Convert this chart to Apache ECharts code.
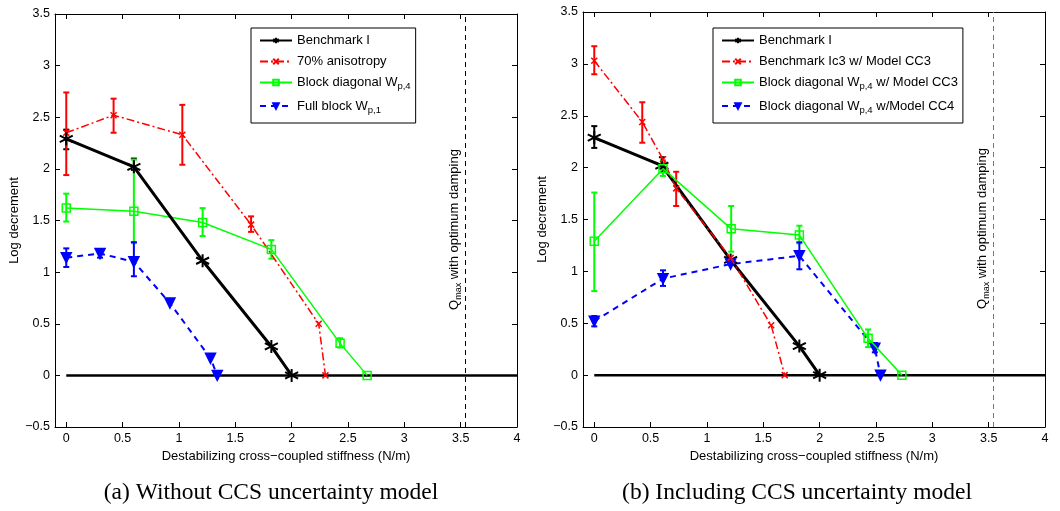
<!DOCTYPE html>
<html><head><meta charset="utf-8">
<script src="https://cdn.jsdelivr.net/npm/echarts@6/dist/echarts.min.js"></script>
<style>html,body{margin:0;padding:0;background:#fff;}#c{width:1060px;height:511px;}</style>
</head><body><div id="c"></div>
<script>
// ---- tick labels ----
const xTicks = [0, 0.5, 1, 1.5, 2, 2.5, 3, 3.5, 4];
const yTicks = [-0.5, 0, 0.5, 1, 1.5, 2, 2.5, 3, 3.5];
const qmaxX = 3.54;
const zeroLineX = [0, 4];

// ---- (a) Without CCS uncertainty model ----
const aBenchX = [0, 0.6, 1.21, 1.82, 2.0];
const aBenchY = [2.29, 2.02, 1.11, 0.28, 0];
const aBenchErrX = [0, 0.6];
const aBenchErrLo = [2.19, 1.99];
const aBenchErrHi = [2.38, 2.10];

const aAnisoX = [0, 0.42, 1.03, 1.64, 2.24, 2.30];
const aAnisoY = [2.35, 2.52, 2.33, 1.46, 0.50, 0];
const aAnisoErrX = [0, 0.42, 1.03, 1.64];
const aAnisoErrLo = [1.94, 2.35, 2.04, 1.39];
const aAnisoErrHi = [2.74, 2.68, 2.62, 1.54];

const aBlockX = [0, 0.6, 1.21, 1.82, 2.43, 2.67];
const aBlockY = [1.62, 1.59, 1.48, 1.22, 0.31, 0];
const aBlockErrX = [0, 0.6, 1.21, 1.82, 2.43];
const aBlockErrLo = [1.49, 1.28, 1.35, 1.13, 0.27];
const aBlockErrHi = [1.76, 2.09, 1.62, 1.31, 0.36];

const aFullX = [0, 0.3, 0.6, 0.92, 1.28, 1.34];
const aFullY = [1.14, 1.18, 1.10, 0.70, 0.165, 0];
const aFullErrX = [0, 0.3, 0.6];
const aFullErrLo = [1.05, 1.14, 0.96];
const aFullErrHi = [1.23, 1.22, 1.29];

// ---- (b) Including CCS uncertainty model ----
const bBenchX = [0, 0.6, 1.21, 1.82, 2.0];
const bBenchY = [2.29, 2.02, 1.11, 0.28, 0];
const bBenchErrX = [0, 0.6];
const bBenchErrLo = [2.19, 1.99];
const bBenchErrHi = [2.40, 2.10];

const bIc3X = [0, 0.426, 0.61, 0.727, 1.21, 1.57, 1.69];
const bIc3Y = [3.03, 2.44, 2.08, 1.80, 1.13, 0.48, 0];
const bIc3ErrX = [0, 0.426, 0.727];
const bIc3ErrLo = [2.90, 2.24, 1.63];
const bIc3ErrHi = [3.17, 2.63, 1.96];

const bCC3X = [0, 0.61, 1.215, 1.82, 2.43, 2.73];
const bCC3Y = [1.29, 1.99, 1.41, 1.35, 0.355, 0];
const bCC3ErrX = [0, 0.61, 1.215, 1.82, 2.43];
const bCC3ErrLo = [0.81, 1.92, 1.19, 1.27, 0.27];
const bCC3ErrHi = [1.76, 2.07, 1.63, 1.44, 0.44];

const bCC4X = [0, 0.61, 1.21, 1.82, 2.49, 2.54];
const bCC4Y = [0.52, 0.93, 1.07, 1.15, 0.26, 0];
const bCC4ErrX = [0, 0.61, 1.82, 2.49];
const bCC4ErrLo = [0.47, 0.86, 1.02, 0.22];
const bCC4ErrHi = [0.57, 1.01, 1.28, 0.31];

// ---- legend labels ----
const legendA = {
  'aBench': 'Benchmark I',
  'aAniso': '70% anisotropy',
  'aBlock': 'Block diagonal W{sub|p,4}',
  'aFull': 'Full block W{sub|p,1}'
};
const legendB = {
  'bBench': 'Benchmark I',
  'bIc3': 'Benchmark Ic3 w/ Model CC3',
  'bCC3': 'Block diagonal W{sub|p,4} w/ Model CC3',
  'bCC4': 'Block diagonal W{sub|p,4} w/Model CC4'
};
const captionA = '(a) Without CCS uncertainty model';
const captionB = '(b) Including CCS uncertainty model';
const xName = 'Destabilizing cross\u2212coupled stiffness (N/m)';
const yName = 'Log decrement';
const qLabel = 'Q{sub|max} with optimum damping';

const FONT = 'Liberation Sans';
const STAR = 'path://M0,-10L0,10M-8.66,-5L8.66,5M-8.66,5L8.66,-5';
const CROSS = 'path://M-5,-5L5,5M-5,5L5,-5';
const SQUARE = 'path://M-5,-5L5,-5L5,5L-5,5Z';

function zip(xs, ys) { return xs.map((x, i) => [x, ys[i]]); }

function lineS(name, xs, ys, g, color, width, type, symbol, size, opts) {
  return Object.assign({
    type: 'line', name: name, xAxisIndex: g * 2, yAxisIndex: g * 2,
    data: zip(xs, ys), symbol: symbol, symbolSize: size,
    lineStyle: { color: color, width: width, type: type },
    itemStyle: { color: color, borderColor: color, borderWidth: 1.5 },
    animation: false, silent: true, z: 3
  }, opts || {});
}

function errS(xs, lo, hi, g, color, lw) {
  return {
    type: 'custom', xAxisIndex: g * 2, yAxisIndex: g * 2, silent: true, animation: false, z: 2,
    data: xs.map((x, i) => [x, lo[i], hi[i]]),
    encode: { x: 0, y: [1, 2] },
    renderItem: function (params, api) {
      const x = api.value(0);
      const a = api.coord([x, api.value(1)]);
      const b = api.coord([x, api.value(2)]);
      const w = 3;
      const st = { stroke: color, lineWidth: lw };
      return { type: 'group', children: [
        { type: 'line', shape: { x1: a[0], y1: a[1], x2: b[0], y2: b[1] }, style: st },
        { type: 'line', shape: { x1: a[0] - w, y1: a[1], x2: a[0] + w, y2: a[1] }, style: st },
        { type: 'line', shape: { x1: b[0] - w, y1: b[1], x2: b[0] + w, y2: b[1] }, style: st }
      ] };
    }
  };
}

function zeroS(g, mlColor) {
  return {
    type: 'line', xAxisIndex: g * 2, yAxisIndex: g * 2, silent: true, animation: false,
    data: zeroLineX.map(x => [x, 0]), symbol: 'none',
    lineStyle: { color: '#000', width: 2.5 }, z: 1,
    markLine: {
      silent: true, symbol: ['none', 'none'], animation: false,
      lineStyle: { color: mlColor, width: 1, type: [5, 4] },
      label: {
        show: true, position: 'insideMiddleTop', formatter: qLabel,
        color: '#000', fontFamily: FONT, fontSize: 13, distance: 2, padding: [0, 18, 0, 0],
        rich: { sub: { fontSize: 9, fontFamily: FONT, padding: [8, 0, 0, 0], verticalAlign: 'bottom' } }
      },
      data: [{ xAxis: qmaxX }]
    }
  };
}

function fmt(v) { return v < 0 ? '\u2212' + Math.abs(v) : String(v); }

const axLine = { show: true, onZero: false, lineStyle: { color: '#000', width: 1 } };
const lbl = { color: '#000', fontFamily: FONT, fontSize: 12.5 };
const nameLbl = { color: '#000', fontFamily: FONT, fontSize: 13 };

function xAxes(g) {
  return [
    { type: 'value', gridIndex: g, position: 'bottom', min: -0.1, max: 4, axisLine: axLine,
      splitLine: { show: false },
      axisTick: { inside: true, length: 5, lineStyle: { color: '#000' }, customValues: xTicks },
      axisLabel: Object.assign({ margin: 5, formatter: fmt, customValues: xTicks }, lbl),
      name: xName, nameLocation: 'middle', nameGap: 19, nameTextStyle: nameLbl },
    { type: 'value', gridIndex: g, position: 'top', min: -0.1, max: 4, axisLine: axLine,
      splitLine: { show: false },
      axisTick: { inside: true, length: 5, lineStyle: { color: '#000' }, customValues: xTicks },
      axisLabel: { show: false } }
  ];
}
function yAxes(g) {
  return [
    { type: 'value', gridIndex: g, position: 'left', min: -0.5, max: 3.5, interval: 0.5, axisLine: axLine,
      splitLine: { show: false },
      axisTick: { inside: true, length: 5, lineStyle: { color: '#000' } },
      axisLabel: Object.assign({ margin: 5, formatter: fmt }, lbl),
      name: yName, nameLocation: 'middle', nameGap: 34, nameTextStyle: nameLbl },
    { type: 'value', gridIndex: g, position: 'right', min: -0.5, max: 3.5, interval: 0.5, axisLine: axLine,
      splitLine: { show: false },
      axisTick: { inside: true, length: 5, lineStyle: { color: '#000' } },
      axisLabel: { show: false } }
  ];
}

function legend(map, left, top) {
  return {
    orient: 'vertical', left: left, top: top, data: Object.keys(map),
    formatter: n => map[n],
    itemWidth: 32, itemHeight: 7, itemGap: 8,
    borderColor: '#000', borderWidth: 1, borderRadius: 0, padding: [6, 5, 8, 8],
    backgroundColor: '#fff', selectedMode: false,
    textStyle: { color: '#000', fontFamily: FONT, fontSize: 13,
      rich: { sub: { fontSize: 9.5, fontFamily: FONT, padding: [8, 0, 0, 0], verticalAlign: 'bottom', color: '#000' } } }
  };
}

const RED = '#ff0000', GREEN = '#00ff00', BLUE = '#0000ff', BLACK = '#000000';
const DASHDOT = [8, 3, 2, 3], DASH = [6, 5];

const capStyle = { fontFamily: 'Liberation Serif', fontSize: 23.5, fontWeight: 'normal', color: '#000' };

const option = {
  backgroundColor: '#fff',
  animation: false,
  title: [
    { text: captionA, left: 266, top: 476, textAlign: 'center', textStyle: capStyle },
    { text: captionB, left: 792, top: 476, textAlign: 'center', textStyle: capStyle }
  ],
  grid: [
    { left: 55, top: 14, width: 462, height: 413 },
    { left: 583, top: 12, width: 462, height: 415 }
  ],
  xAxis: [].concat(xAxes(0), xAxes(1)),
  yAxis: [].concat(yAxes(0), yAxes(1)),
  legend: [legend(legendA, 251, 28), legend(legendB, 713, 28)],
  series: [
    zeroS(0, '#000'),
    errS(aBenchErrX, aBenchErrLo, aBenchErrHi, 0, BLACK, 2),
    errS(aAnisoErrX, aAnisoErrLo, aAnisoErrHi, 0, RED, 2),
    errS(aBlockErrX, aBlockErrLo, aBlockErrHi, 0, GREEN, 2),
    errS(aFullErrX, aFullErrLo, aFullErrHi, 0, BLUE, 2),
    lineS('aBench', aBenchX, aBenchY, 0, BLACK, 3, 'solid', STAR, 13, { z: 4, itemStyle: { color: BLACK, borderColor: BLACK, borderWidth: 2 } }),
    lineS('aAniso', aAnisoX, aAnisoY, 0, RED, 1.5, DASHDOT, CROSS, 6),
    lineS('aBlock', aBlockX, aBlockY, 0, GREEN, 1.5, 'solid', SQUARE, 8, { itemStyle: { color: 'rgba(0,0,0,0)', borderColor: GREEN, borderWidth: 1.5 } }),
    lineS('aFull', aFullX, aFullY, 0, BLUE, 2, DASH, 'triangle', 10, { symbolRotate: 180 }),

    zeroS(1, '#777'),
    errS(bBenchErrX, bBenchErrLo, bBenchErrHi, 1, BLACK, 2),
    errS(bIc3ErrX, bIc3ErrLo, bIc3ErrHi, 1, RED, 2),
    errS(bCC3ErrX, bCC3ErrLo, bCC3ErrHi, 1, GREEN, 2),
    errS(bCC4ErrX, bCC4ErrLo, bCC4ErrHi, 1, BLUE, 2),
    lineS('bBench', bBenchX, bBenchY, 1, BLACK, 3, 'solid', STAR, 13, { itemStyle: { color: BLACK, borderColor: BLACK, borderWidth: 2 } }),
    lineS('bIc3', bIc3X, bIc3Y, 1, RED, 1.5, DASHDOT, CROSS, 6, { z: 4 }),
    lineS('bCC3', bCC3X, bCC3Y, 1, GREEN, 1.5, 'solid', SQUARE, 8, { z: 5, itemStyle: { color: 'rgba(0,0,0,0)', borderColor: GREEN, borderWidth: 1.5 } }),
    lineS('bCC4', bCC4X, bCC4Y, 1, BLUE, 2, DASH, 'triangle', 10, { symbolRotate: 180 })
  ]
};

echarts.init(document.getElementById('c'), null, { renderer: 'canvas' }).setOption(option);
</script>
</body></html>
